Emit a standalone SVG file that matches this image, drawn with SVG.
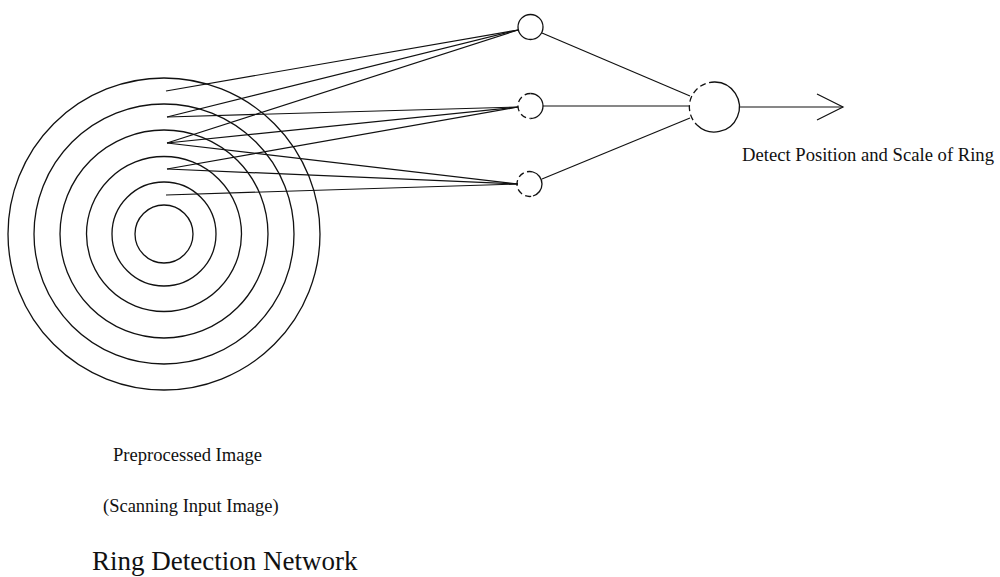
<svg xmlns="http://www.w3.org/2000/svg" width="1000" height="577" viewBox="0 0 1000 577">
  <style>
    .ring { fill: none; stroke: #111; stroke-width: 1.3; }
    .node { fill: #fff; stroke: #111; stroke-width: 1.3; }
    .dash { fill: none; stroke: #111; stroke-width: 1.3; stroke-dasharray: 6 3.5; }
    .solid { fill: none; stroke: #111; stroke-width: 1.3; }
    .wire { fill: none; stroke: #111; stroke-width: 1.2; }
    .label { font-family: "Liberation Serif", "Times New Roman", serif; fill: #111; }
  </style>

  <!-- concentric rings of the preprocessed image -->
  <g id="image">
    <circle class="ring" cx="164" cy="234" r="29"/>
    <circle class="ring" cx="164" cy="234" r="52"/>
    <circle class="ring" cx="164" cy="234" r="77.5"/>
    <circle class="ring" cx="164" cy="234" r="104"/>
    <circle class="ring" cx="164" cy="234" r="130"/>
    <circle class="ring" cx="164" cy="234" r="156"/>
  </g>

  <!-- connections -->
  <g id="connectors">
    <!-- scan taps to hidden unit 1 -->
    <line class="wire" x1="166" y1="91" x2="518" y2="30"/>
    <line class="wire" x1="167" y1="117" x2="518" y2="30"/>
    <line class="wire" x1="167" y1="143" x2="518" y2="30"/>
    <!-- scan taps to hidden unit 2 -->
    <line class="wire" x1="167" y1="117" x2="518" y2="107"/>
    <line class="wire" x1="167" y1="143" x2="518" y2="107"/>
    <line class="wire" x1="167" y1="169" x2="518" y2="107"/>
    <!-- scan taps to hidden unit 3 -->
    <line class="wire" x1="167" y1="143" x2="518" y2="184"/>
    <line class="wire" x1="167" y1="169" x2="518" y2="184"/>
    <line class="wire" x1="166" y1="195" x2="518" y2="184"/>
    <!-- hidden units to output -->
    <line class="wire" x1="542" y1="33" x2="690" y2="96"/>
    <line class="wire" x1="543" y1="106" x2="690" y2="106"/>
    <line class="wire" x1="542" y1="179" x2="690" y2="118"/>
    <!-- output arrow -->
    <line class="wire" x1="740" y1="107" x2="843" y2="107"/>
    <polyline class="wire" points="817,94 843,107 817,120"/>
  </g>

  <!-- hidden units -->
  <g id="hidden-1">
    <circle class="node" cx="530.5" cy="27" r="12.5"/>
  </g>
  <g id="hidden-2">
    <path class="dash" d="M 530.5 93.5 A 12.5 12.5 0 1 0 530.5 118.5"/>
    <path class="solid" d="M 530.5 93.5 A 12.5 12.5 0 0 1 530.5 118.5"/>
  </g>
  <g id="hidden-3">
    <path class="dash" d="M 533 172 A 12.5 12.5 0 1 0 533 196"/>
    <path class="solid" d="M 533 172 A 12.5 12.5 0 0 1 533 196"/>
  </g>

  <!-- output unit -->
  <g id="output">
    <path class="dash" d="M 715 82 A 25 25 0 0 0 697 125"/>
    <path class="solid" d="M 715 82 A 25 25 0 1 1 697 125"/>
  </g>

  <!-- labels -->
  <g id="labels">
    <text class="label" x="742" y="160.5" font-size="18.5" textLength="252" lengthAdjust="spacingAndGlyphs">Detect Position and Scale of Ring</text>
    <text class="label" x="113" y="460.5" font-size="18.5" textLength="149" lengthAdjust="spacingAndGlyphs">Preprocessed Image</text>
    <text class="label" x="103" y="511.5" font-size="18.5">(Scanning Input Image)</text>
    <text class="label" x="92" y="570" font-size="27">Ring Detection Network</text>
  </g>
</svg>
